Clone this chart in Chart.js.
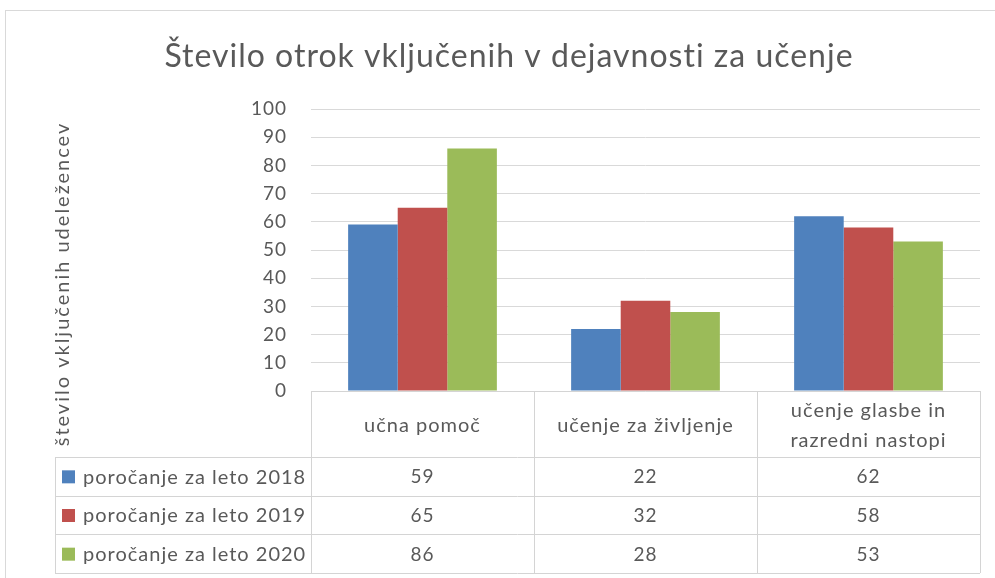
<!DOCTYPE html>
<html>
<head>
<meta charset="utf-8">
<script src="https://cdn.jsdelivr.net/npm/chart.js@4"></script>
<style>
  html, body { margin: 0; padding: 0; background: #fff; }
  canvas { display: block; }
</style>
</head>
<body>
<canvas id="chart" width="995" height="578"></canvas>
<script>
// chart data
const title = 'Število otrok vključenih v dejavnosti za učenje';
const yTitle = 'število vključenih udeležencev';
const categories = ['učna pomoč', 'učenje za življenje', ['učenje glasbe in', 'razredni nastopi']];
const seriesNames = ['poročanje za leto 2018', 'poročanje za leto 2019', 'poročanje za leto 2020'];
const values2018 = [59, 22, 62];
const values2019 = [65, 32, 58];
const values2020 = [86, 28, 53];
const yTicks = [0, 10, 20, 30, 40, 50, 60, 70, 80, 90, 100];

const COLORS = ['#4f81bd', '#c0504d', '#9bbb59'];
const TEXT = '#595959';
const LINE = '#d4d4d4';
const FONT = 'Lato';

// Excel spaces its Calibri text wider than Lato, so widen everything a bit
const spacingPlugin = {
  id: 'spacing',
  beforeDraw(chart) { chart.ctx.letterSpacing = '1px'; },
};

// draws the frame, title, rotated axis title and the data table under the plot
const tablePlugin = {
  id: 'dataTable',
  afterDraw(chart) {
    const ctx = chart.ctx;
    const x = chart.scales.x;
    const area = chart.chartArea;
    const sets = chart.data.datasets;
    const n = chart.data.labels.length;
    const catW = (area.right - area.left) / n;

    const top = area.bottom;
    const headBottom = top + 66;
    const bottom = x.bottom;
    const rowH = (bottom - headBottom) / sets.length;
    const legendLeft = 55;

    ctx.save();
    // outer frame
    ctx.strokeStyle = '#d9d9d9';
    ctx.lineWidth = 1;
    ctx.strokeRect(5.5, 10.5, 1000, 600);

    // title
    ctx.fillStyle = TEXT;
    ctx.font = `32px ${FONT}`;
    ctx.letterSpacing = '1px';
    ctx.textAlign = 'center';
    ctx.textBaseline = 'middle';
    ctx.fillText(title, 509, 57);

    // table lines
    ctx.strokeStyle = LINE;
    ctx.beginPath();
    ctx.moveTo(area.left, top + 0.5);
    ctx.lineTo(area.right, top + 0.5);
    for (let r = 0; r <= sets.length; r++) {
      const y = Math.round(headBottom + r * rowH) + 0.5;
      ctx.moveTo(legendLeft, y);
      ctx.lineTo(area.right, y);
    }
    for (let i = 0; i <= n; i++) {
      const xx = Math.round(x.getPixelForValue(i) - catW / 2) + 0.5;
      ctx.moveTo(xx, top);
      ctx.lineTo(xx, bottom);
    }
    ctx.moveTo(legendLeft + 0.5, headBottom);
    ctx.lineTo(legendLeft + 0.5, bottom);
    ctx.stroke();

    // legend keys and values
    sets.forEach((ds, r) => {
      const cy = headBottom + (r + 0.5) * rowH;
      ctx.fillStyle = ds.backgroundColor;
      ctx.fillRect(62, cy - 6, 13, 13);
      ctx.fillStyle = TEXT;
      ctx.font = `20px ${FONT}`;
      ctx.textAlign = 'left';
      ctx.fillText(ds.label, 83, cy + 1);
      ctx.font = `19px ${FONT}`;
      ctx.textAlign = 'center';
      ds.data.forEach((v, i) => {
        ctx.fillText(String(v), x.getPixelForValue(i), cy + 1);
      });
    });

    // y axis title
    ctx.translate(63, 284);
    ctx.rotate(-Math.PI / 2);
    ctx.textAlign = 'center';
    ctx.font = `20px ${FONT}`;
    ctx.letterSpacing = '2px';
    ctx.fillText(yTitle, 0, 0);
    ctx.restore();
  }
};

new Chart(document.getElementById('chart'), {
  type: 'bar',
  data: {
    labels: categories,
    datasets: [
      { label: seriesNames[0], data: values2018, backgroundColor: COLORS[0] },
      { label: seriesNames[1], data: values2019, backgroundColor: COLORS[1] },
      { label: seriesNames[2], data: values2020, backgroundColor: COLORS[2] },
    ],
  },
  options: {
    responsive: false,
    animation: false,
    devicePixelRatio: 1,
    layout: { padding: { left: 5, right: 15, top: 109, bottom: 5 } },
    datasets: {
      bar: { categoryPercentage: 0.667, barPercentage: 1.0, borderWidth: 0 },
    },
    plugins: {
      legend: { display: false },
      tooltip: { enabled: false },
      title: { display: false },
    },
    scales: {
      x: {
        grid: { display: false, drawTicks: false },
        border: { display: false },
        ticks: {
          color: TEXT,
          font: { family: FONT, size: 20, lineHeight: '30px' },
          maxRotation: 0,
          autoSkip: false,
          crossAlign: 'center',
          padding: 20,
        },
        afterFit(scale) { scale.height = 182; },
      },
      y: {
        min: 0,
        max: 100,
        afterBuildTicks(scale) { scale.ticks = yTicks.map(v => ({ value: v })); },
        grid: { color: '#d9d9d9', drawTicks: false },
        border: { display: false },
        ticks: {
          color: TEXT,
          font: { family: FONT, size: 19 },
          padding: 24,
        },
        afterFit(scale) { scale.width = 306; },
      },
    },
  },
  plugins: [spacingPlugin, tablePlugin],
});
</script>
</body>
</html>
